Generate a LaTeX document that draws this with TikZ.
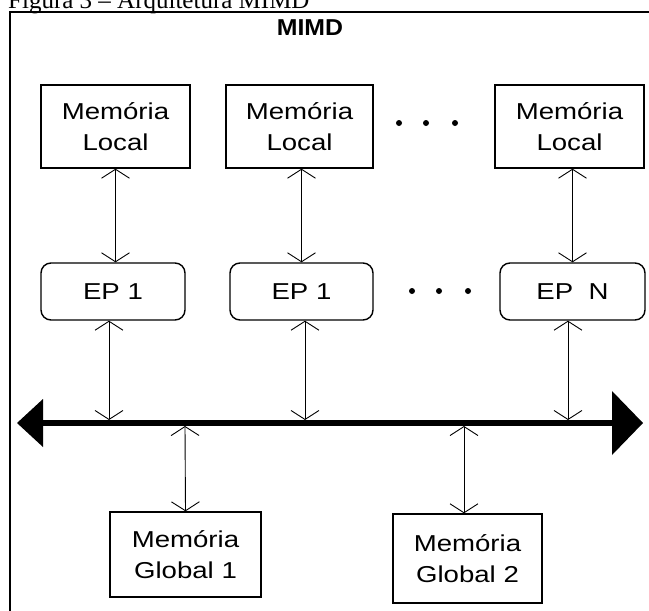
\documentclass[tikz,border=0pt]{standalone}
\usepackage{fontspec}
\usepackage{graphicx}
\setmainfont{Liberation Sans}
\newfontfamily\captionfont{Liberation Serif}
\usetikzlibrary{arrows.meta}
\newcommand\stretchtxt[1]{\scalebox{1.2}[1]{#1}}
\tikzset{
  membox/.style={draw, line width=1.4pt, inner sep=0pt, align=center,
    font=\fontsize{23}{31}\selectfont},
  epbox/.style={membox, rounded corners=10pt},
  conn/.style={line width=0.9pt, {Straight Barb[length=9pt,width=28pt]}-{Straight Barb[length=9pt,width=28pt]}},
  dotmark/.style={fill=black}
}
\begin{document}
\begin{tikzpicture}[x=1pt,y=-1pt]
\useasboundingbox (0,0) rectangle (649,611);
\clip (0,0) rectangle (649,611);
\fill[white] (0,0) rectangle (649,611);
% caption (cut at top)
\node[anchor=base west, inner sep=0pt, font=\captionfont\fontsize{25}{25}\selectfont] (cap) at (8,8) {Figura 3 – Arquitetura MIMD};
% frame
\draw[line width=2pt] (10,700) -- (10,12) -- (700,12);
% title
\node[font=\bfseries\fontsize{23}{23}\selectfont, inner sep=0pt] (title) at (310,27.5) {\scalebox{1.08}[1]{MIMD}};
% local memories
\node[membox, minimum width=149pt, minimum height=83pt] (m1) at (115.5,126.5) {\stretchtxt{Memória}\\\stretchtxt{Local}};
\node[membox, minimum width=147pt, minimum height=83pt] (m2) at (299.5,126.5) {\stretchtxt{Memória}\\\stretchtxt{Local}};
\node[membox, minimum width=149pt, minimum height=83pt] (m3) at (569.5,126.5) {\stretchtxt{Memória}\\\stretchtxt{Local}};
% processing elements
\node[epbox, minimum width=144pt, minimum height=57pt] (e1) at (113,291.5) {\stretchtxt{EP 1}};
\node[epbox, minimum width=143pt, minimum height=57pt] (e2) at (301.5,291.5) {\stretchtxt{EP 1}};
\node[epbox, minimum width=145pt, minimum height=57pt] (e3) at (572.5,291.5) {\stretchtxt{EP~~N}};
% global memories
\node[membox, minimum width=151pt, minimum height=85pt] (g1) at (185.5,554.5) {\stretchtxt{Memória}\\\stretchtxt{Global 1}};
\node[membox, minimum width=149pt, minimum height=89pt] (g2) at (467.5,558.5) {\stretchtxt{Memória}\\\stretchtxt{Global 2}};
% dots
\fill[dotmark] (399,123) circle (3pt) (426,123) circle (3pt) (455,123) circle (3pt);
\fill[dotmark] (412,291) circle (3pt) (439,291) circle (3pt) (468,291) circle (3pt);
% bus
\coordinate (busL) at (43,423);
\coordinate (busR) at (612,423);
\draw[line width=6pt] (busL) -- (busR);
\fill (busL) -- ++(0,-24) -- ++(-26,24) -- ++(26,24) -- cycle;
\fill (busR) -- ++(0,-32) -- ++(31,32) -- ++(-31,32) -- cycle;
\coordinate (b1) at (109,420);
\coordinate (b2) at (305,420);
\coordinate (b3) at (568,420);
\coordinate (b4) at (185,426);
\coordinate (b5) at (464,426);
% connectors memory <-> EP
\draw[conn] (m1.south) -- (m1.south |- e1.north);
\draw[conn] (e2.north |- m2.south) -- (e2.north);
\draw[conn] (e3.north |- m3.south) -- (e3.north);
% EP <-> bus
\draw[conn] (b1 |- e1.south) -- (b1);
\draw[conn] (b2 |- e2.south) -- (b2);
\draw[conn] (b3 |- e3.south) -- (b3);
% bus <-> global memories
\draw[conn] (b4) -- (g1.north);
\draw[conn] (b5) -- (b5 |- g2.north);
\end{tikzpicture}
\end{document}
